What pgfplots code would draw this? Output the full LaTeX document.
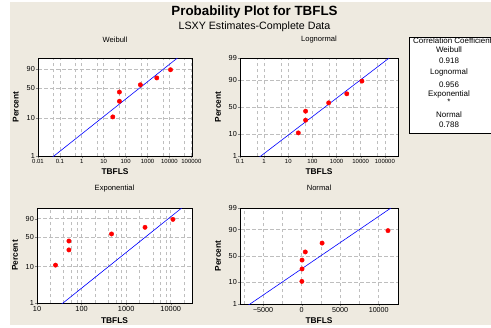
\documentclass[border=0pt]{standalone}
\usepackage{pgfplots}
\pgfplotsset{compat=1.18}
\usepackage{fontspec}
\setmainfont{Liberation Sans}
\definecolor{bgc}{RGB}{238,234,224}
\definecolor{gridc}{RGB}{190,190,190}
\pgfplotsset{
  pp/.style={
    scale only axis, anchor=south west,
    axis background/.style={fill=white},
    /pgf/number format/assume math mode=true,
    tick align=outside, tick pos=left,
    major tick length=2bp, minor tick length=0pt,
    grid=both,
    major grid style={gridc, dash pattern=on 3.5bp off 2.5bp, line width=0.7bp},
    minor grid style={gridc, dash pattern=on 3.5bp off 2.5bp, line width=0.7bp},
    axis line style={line width=0.8bp},
    yticklabel style={font=\fontsize{7.3}{8}\selectfont, inner sep=1bp},
    xlabel=TBFLS, ylabel=Percent,
    label style={font=\bfseries\fontsize{8.4}{9}\selectfont},
    title style={font=\fontsize{7.6}{8}\selectfont},
    clip=true,
  },
  pts/.style={only marks, mark=*, mark size=2.2bp, mark options={draw=red, fill=red}},
  fit/.style={no marks, color=blue, line width=0.6bp},
}
\begin{document}
\begin{tikzpicture}[x=1bp,y=1bp]
\useasboundingbox (0,0) rectangle (491,-327);
\fill[white] (0,0) rectangle (491,-327);
\fill[bgc] (10,-2) rectangle (491,-325);
\node[font=\bfseries\fontsize{13.4}{15}\selectfont] at (254.5,-12) {Probability Plot for TBFLS};
\node[font=\fontsize{10.7}{12}\selectfont] at (254.5,-27) {LSXY Estimates-Complete Data};

% Weibull
\begin{axis}[pp, at={(38bp,-156bp)}, width=154bp, height=98bp,
  xmode=log, xmin=0.01, xmax=1.07e5,
  ymin=-4.60015, ymax=1.52718,
  xtick={0.01,0.1,1,10,100,1000,10000,100000},
  xticklabels={0.01,0.1,1,10,100,1000,10000,100000},
  minor xtick={0.05,0.5,5,50,500,5000,50000},
  ytick={-4.60015,-2.25037,-0.36651,0.83403},
  yticklabels={1,10,50,90},
  xticklabel style={font=\fontsize{6}{7}\selectfont, inner sep=1bp},
  title=Weibull,
  title style={at={(axis description cs:0.5,1.126)}, anchor=center},
  xlabel style={at={(axis description cs:0.5,-0.16)}, anchor=center},
  ylabel style={at={(axis description cs:-0.145,0.5)}, anchor=center},
]
\addplot[fit] coordinates {(0.01,-5.390) (1e6,3.306)};
\addplot[pts] coordinates {(26,-2.1554) (52,-1.1754) (52,-0.6015) (470,-0.1474) (2650,0.2820) (11200,0.7943)};
\end{axis}

% Lognormal
\begin{axis}[pp, at={(240bp,-156bp)}, width=158bp, height=98bp,
  xmode=log, xmin=0.1, xmax=3.5e5,
  ymin=-2.32635, ymax=2.32635,
  xtick={0.1,1,10,100,1000,10000,100000},
  xticklabels={0.1,1,10,100,1000,10000,100000},
  minor xtick={0.5,5,50,500,5000,50000},
  ytick={-2.32635,-1.28155,0,1.28155,2.32635},
  yticklabels={1,10,50,90,99},
  xticklabel style={font=\fontsize{6}{7}\selectfont, inner sep=1bp},
  title=Lognormal,
  title style={at={(axis description cs:0.5,1.126)}, anchor=center},
  xlabel style={at={(axis description cs:0.5,-0.16)}, anchor=center},
  ylabel style={at={(axis description cs:-0.139,0.5)}, anchor=center},
]
\addplot[fit] coordinates {(0.1,-3.082) (1e6,3.046)};
\addplot[pts] coordinates {(26,-1.2297) (52,-0.6262) (52,-0.1970) (470,0.1970) (2650,0.6262) (11200,1.2297)};
\end{axis}

% Exponential
\begin{axis}[pp, at={(37bp,-303bp)}, width=155bp, height=95bp,
  xmode=log, xmin=10, xmax=3e4,
  ymin=-4.60015, ymax=1.52718,
  xtick={10,100,1000,10000},
  xticklabels={10,100,1000,10000},
  minor xtick={20,40,60,80,200,400,600,800,2000,4000,6000,8000,20000},
  ytick={-4.60015,-2.25037,-0.36651,0.83403},
  yticklabels={1,10,50,90},
  xticklabel style={font=\fontsize{7.4}{8}\selectfont, inner sep=1.5bp},
  title=Exponential,
  title style={at={(axis description cs:0.5,1.144)}, anchor=center},
  xlabel style={at={(axis description cs:0.5,-0.186)}, anchor=center},
  ylabel style={at={(axis description cs:-0.142,0.5)}, anchor=center},
]
\addplot[fit] coordinates {(10,-5.945) (30000,2.061)};
\addplot[pts] coordinates {(26,-2.1554) (52,-1.1754) (52,-0.6015) (470,-0.1474) (2650,0.2820) (11200,0.7943)};
\end{axis}

% Normal
\begin{axis}[pp, at={(240bp,-304bp)}, width=158bp, height=96bp,
  xmin=-8000, xmax=12500,
  ymin=-2.32635, ymax=2.32635,
  xtick={-5000,0,5000,10000},
  xticklabels={−5000,0,5000,10000},
  minor xtick={-7500,-2500,2500,7500},
  scaled x ticks=false,
  ytick={-2.32635,-1.28155,0,1.28155,2.32635},
  yticklabels={1,10,50,90,99},
  xticklabel style={font=\fontsize{7.2}{8}\selectfont, inner sep=1.5bp},
  title=Normal,
  title style={at={(axis description cs:0.5,1.144)}, anchor=center},
  xlabel style={at={(axis description cs:0.5,-0.175)}, anchor=center},
  ylabel style={at={(axis description cs:-0.139,0.5)}, anchor=center},
]
\addplot[fit] coordinates {(-8000,-2.657) (12500,2.560)};
\addplot[pts] coordinates {(26,-1.2297) (52,-0.6262) (52,-0.1970) (470,0.1970) (2650,0.6262) (11200,1.2297)};
\end{axis}

% Correlation box
\draw[fill=white, line width=0.7bp] (409,-37) rectangle (500,-133);
\begin{scope}[every node/.style={font=\fontsize{8}{9}\selectfont, inner sep=0pt}]
\node[anchor=west] at (413,-41) {Correlation Coefficient};
\node at (449,-49.3) {Weibull};
\node at (449,-61) {0.918};
\node at (449,-72.7) {Lognormal};
\node at (449,-84.3) {0.956};
\node at (449,-94.3) {Exponential};
\node at (449,-101.5) {*};
\node at (449,-114.3) {Normal};
\node at (449,-125) {0.788};
\end{scope}
\end{tikzpicture}
\end{document}
